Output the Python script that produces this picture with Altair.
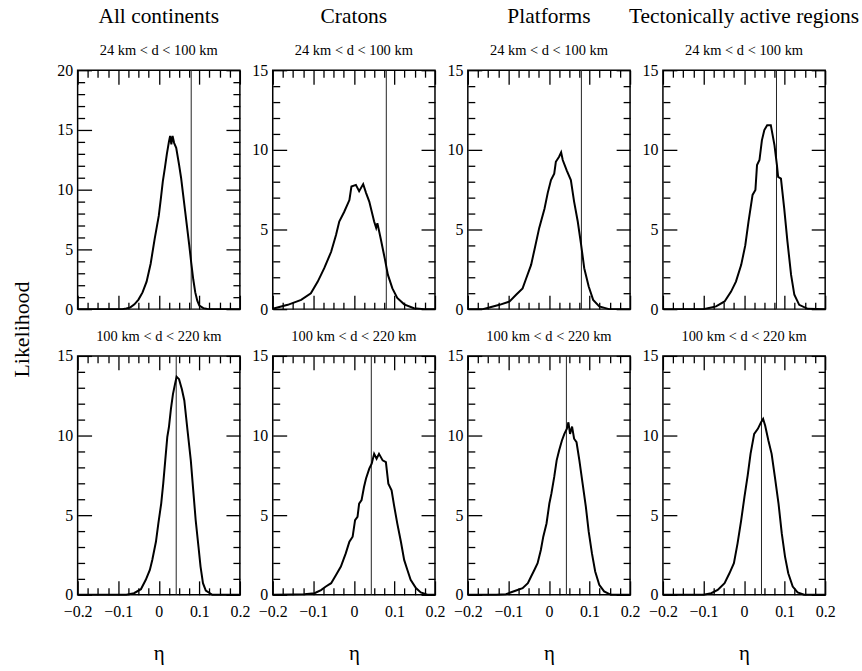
import altair as alt
import pandas as pd

FONT = "Liberation Serif"

# ---- data ----
COLUMNS = ["All continents", "Cratons", "Platforms", "Tectonically active regions"]
ROW_LABELS = ["24 km < d < 100 km", "100 km < d < 220 km"]
ROW_YMAX = [[20, 15, 15, 15], [15, 15, 15, 15]]
ROW_VLINE = [0.08, 0.043]

ALL_SHALLOW_ETA = [-0.2, -0.09, -0.08, -0.07, -0.06, -0.05, -0.04, -0.03, -0.02, -0.01, 0.0, 0.005, 0.01, 0.015, 0.02, 0.025, 0.028, 0.031, 0.034, 0.038, 0.043, 0.05, 0.055, 0.06, 0.065, 0.07, 0.075, 0.08, 0.085, 0.09, 0.095, 0.1, 0.11, 0.12, 0.13, 0.2]
ALL_SHALLOW_L = [0, 0, 0.05, 0.15, 0.4, 0.8, 1.4, 2.3, 3.8, 5.9, 7.8, 9.2, 10.7, 11.8, 13.0, 14.0, 14.5, 13.8, 14.5, 13.9, 13.5, 12.1, 11.0, 9.6, 8.2, 6.8, 5.4, 3.9, 2.5, 1.4, 0.7, 0.3, 0.08, 0.02, 0, 0]

CRA_SHALLOW_ETA = [-0.2, -0.163, -0.13, -0.106, -0.089, -0.073, -0.056, -0.044, -0.036, -0.024, -0.011, -0.006, 0.005, 0.013, 0.023, 0.03, 0.038, 0.05, 0.055, 0.058, 0.066, 0.076, 0.084, 0.095, 0.107, 0.124, 0.148, 0.173, 0.2]
CRA_SHALLOW_L = [0.02, 0.27, 0.58, 1.0, 1.73, 2.57, 3.6, 4.66, 5.5, 6.1, 6.85, 7.7, 7.8, 7.4, 7.85, 7.3, 6.75, 5.5, 5.1, 5.4, 4.45, 3.2, 2.15, 1.3, 0.7, 0.3, 0.06, 0, 0]

PLA_SHALLOW_ETA = [-0.2, -0.163, -0.147, -0.122, -0.097, -0.081, -0.065, -0.056, -0.044, -0.036, -0.024, -0.011, -0.003, 0.005, 0.013, 0.017, 0.025, 0.03, 0.034, 0.044, 0.054, 0.062, 0.071, 0.079, 0.087, 0.098, 0.109, 0.124, 0.148, 0.2]
PLA_SHALLOW_L = [0, 0, 0.1, 0.27, 0.48, 0.9, 1.3, 1.94, 2.78, 3.7, 5.1, 6.3, 7.3, 8.1, 8.5, 9.25, 9.57, 9.84, 9.36, 8.7, 8.1, 6.75, 5.5, 4.1, 2.57, 1.42, 0.58, 0.17, 0, 0]

TEC_SHALLOW_ETA = [-0.2, -0.1, -0.089, -0.069, -0.048, -0.032, -0.02, -0.007, 0.003, 0.011, 0.021, 0.028, 0.032, 0.038, 0.044, 0.05, 0.057, 0.066, 0.075, 0.081, 0.084, 0.091, 0.099, 0.107, 0.116, 0.124, 0.136, 0.157, 0.2]
TEC_SHALLOW_L = [0, 0, 0.06, 0.17, 0.48, 1.1, 1.73, 2.78, 4.0, 5.5, 7.17, 7.48, 9.05, 9.36, 10.6, 11.24, 11.55, 11.55, 10.3, 9.05, 8.3, 8.2, 6.33, 4.24, 2.15, 0.9, 0.27, 0.02, 0]

ALL_DEEP_ETA = [-0.2, -0.08, -0.061, -0.044, -0.032, -0.022, -0.016, -0.007, -0.001, 0.006, 0.011, 0.016, 0.021, 0.025, 0.03, 0.035, 0.04, 0.044, 0.05, 0.057, 0.063, 0.071, 0.079, 0.085, 0.091, 0.098, 0.103, 0.109, 0.116, 0.132, 0.2]
ALL_DEEP_L = [0, 0, 0.1, 0.35, 0.94, 1.56, 2.19, 3.33, 4.48, 5.73, 6.98, 8.44, 9.9, 10.52, 11.67, 12.6, 13.23, 13.69, 13.54, 12.9, 12.2, 10.3, 8.44, 6.56, 4.69, 3.0, 1.77, 0.73, 0.27, 0, 0]

CRA_DEEP_ETA = [-0.2, -0.15, -0.122, -0.097, -0.081, -0.069, -0.056, -0.044, -0.032, -0.02, -0.011, -0.003, 0.003, 0.009, 0.013, 0.019, 0.025, 0.03, 0.038, 0.044, 0.05, 0.056, 0.062, 0.071, 0.079, 0.085, 0.093, 0.099, 0.107, 0.116, 0.124, 0.132, 0.14, 0.153, 0.165, 0.181, 0.2]
CRA_DEEP_L = [0, 0.02, 0.04, 0.1, 0.3, 0.52, 0.73, 1.25, 1.77, 2.6, 3.33, 3.65, 4.69, 4.9, 5.73, 5.94, 6.77, 7.3, 7.92, 8.23, 8.85, 8.54, 8.85, 8.44, 8.33, 6.98, 6.56, 5.63, 4.48, 3.33, 2.19, 1.56, 0.94, 0.42, 0.15, 0, 0]

PLA_DEEP_ETA = [-0.2, -0.13, -0.106, -0.081, -0.065, -0.052, -0.044, -0.036, -0.028, -0.02, -0.014, -0.006, 0.001, 0.006, 0.013, 0.019, 0.025, 0.032, 0.038, 0.044, 0.048, 0.052, 0.057, 0.062, 0.068, 0.075, 0.083, 0.091, 0.098, 0.106, 0.114, 0.124, 0.136, 0.153, 0.2]
PLA_DEEP_L = [0, 0, 0.04, 0.27, 0.42, 0.73, 1.15, 1.56, 1.98, 2.81, 3.65, 4.48, 5.73, 6.35, 7.4, 8.44, 9.06, 9.69, 10.1, 10.42, 10.83, 10.1, 10.56, 9.8, 9.58, 8.44, 6.98, 5.52, 3.96, 2.6, 1.46, 0.63, 0.21, 0, 0]

TEC_DEEP_ETA = [-0.2, -0.1, -0.081, -0.065, -0.048, -0.036, -0.025, -0.016, -0.007, 0.001, 0.009, 0.016, 0.025, 0.034, 0.042, 0.047, 0.052, 0.06, 0.068, 0.076, 0.085, 0.093, 0.101, 0.109, 0.12, 0.132, 0.148, 0.2]
TEC_DEEP_L = [0, 0, 0.1, 0.31, 0.73, 1.35, 1.98, 3.23, 4.69, 6.15, 7.5, 8.85, 10.1, 10.42, 10.83, 11.04, 10.63, 9.69, 8.85, 7.4, 5.73, 3.85, 2.4, 1.35, 0.52, 0.15, 0, 0]

SERIES = [
    [(ALL_SHALLOW_ETA, ALL_SHALLOW_L), (CRA_SHALLOW_ETA, CRA_SHALLOW_L),
     (PLA_SHALLOW_ETA, PLA_SHALLOW_L), (TEC_SHALLOW_ETA, TEC_SHALLOW_L)],
    [(ALL_DEEP_ETA, ALL_DEEP_L), (CRA_DEEP_ETA, CRA_DEEP_L),
     (PLA_DEEP_ETA, PLA_DEEP_L), (TEC_DEEP_ETA, TEC_DEEP_L)],
]

X_MAJOR = [-0.2, -0.1, 0.0, 0.1, 0.2]
X_MINOR = [-0.175, -0.15, -0.125, -0.075, -0.05, -0.025, 0.025, 0.05, 0.075, 0.125, 0.15, 0.175]

W, H = 163, 240
MAJ, MIN = 14, 7
TICK_FONT = 16


def ax(orient, values, size, **kw):
    opts = dict(orient=orient, values=values, tickSize=size, offset=-size,
                domain=False, grid=False, ticks=True, tickColor="black",
                tickWidth=1.3, labels=False, title="", zindex=2)
    opts.update(kw)
    return alt.Axis(**opts)


def panel(r, c):
    eta, lik = SERIES[r][c]
    df = pd.DataFrame({"eta": eta, "L": lik})
    ymax = ROW_YMAX[r][c]
    y_major = [v for v in range(0, ymax + 1) if v % 5 == 0]
    y_minor = [v for v in range(0, ymax + 1) if v % 5 != 0]
    xs = alt.Scale(domain=[-0.2, 0.2], nice=False, zero=False)
    ys = alt.Scale(domain=[0, ymax], nice=False)

    if r == 1:
        bottom_major = ax("bottom", X_MAJOR, MAJ, labels=True, labelFlush=False,
                          labelOverlap=False, labelPadding=9, labelFontSize=TICK_FONT,
                          labelExpr="datum.value == 0 ? '0' : format(datum.value, '.1f')",
                          title="η", titleFontSize=21, titlePadding=23)
    else:
        bottom_major = ax("bottom", X_MAJOR, MAJ)

    ykw = dict(labels=True, labelPadding=5, labelFontSize=TICK_FONT)
    if r == 0 and c == 0:
        ykw.update(title="Likelihood", titleFontSize=22, titleX=-70, titleY=260,
                   titleBaseline="middle", titleAngle=270)
    left_major = ax("left", y_major, MAJ, **ykw)

    base = alt.Chart(df)
    line = base.mark_line(color="black", strokeWidth=2).encode(
        x=alt.X("eta:Q", scale=xs, axis=bottom_major),
        y=alt.Y("L:Q", scale=ys, axis=left_major),
    )
    l2 = base.mark_line(opacity=0).encode(
        x=alt.X("eta:Q", scale=xs, axis=ax("bottom", X_MINOR, MIN)),
        y=alt.Y("L:Q", scale=ys, axis=ax("left", y_minor, MIN)),
    )
    l3 = base.mark_line(opacity=0).encode(
        x=alt.X("eta:Q", scale=xs, axis=ax("top", X_MAJOR, MAJ)),
        y=alt.Y("L:Q", scale=ys, axis=ax("right", y_major, MAJ)),
    )
    l4 = base.mark_line(opacity=0).encode(
        x=alt.X("eta:Q", scale=xs, axis=ax("top", X_MINOR, MIN)),
        y=alt.Y("L:Q", scale=ys, axis=ax("right", y_minor, MIN)),
    )
    vdf = pd.DataFrame({"v": [ROW_VLINE[r]]})
    rule = alt.Chart(vdf).mark_rule(color="#222222", strokeWidth=1).encode(
        x=alt.X("v:Q", scale=xs, axis=None)
    )
    if r == 0:
        title = alt.TitleParams(text=COLUMNS[c], subtitle=ROW_LABELS[r], fontSize=21.5,
                                subtitleFontSize=14.5, subtitlePadding=16, offset=5)
    else:
        title = alt.TitleParams(text=ROW_LABELS[r], fontSize=14.5, offset=3)
    return (alt.layer(rule, line, l2, l3, l4)
            .resolve_axis(x="independent", y="independent")
            .properties(width=W, height=H, title=title))


panels = [panel(r, c) for r in range(2) for c in range(4)]
chart = (alt.concat(*panels, columns=4, spacing={"row": 47, "column": 33}, bounds="flush")
         .properties(padding={"left": 10, "top": 4, "right": 2, "bottom": 5})
         .configure_view(stroke="black", strokeWidth=1.5)
         .configure_axis(labelFont=FONT, titleFont=FONT, labelColor="black",
                         titleColor="black", titleFontWeight="normal")
         .configure_title(font=FONT, subtitleFont=FONT, color="black",
                          subtitleColor="black", anchor="middle",
                          fontWeight="normal"))

chart.save("out.html", embed_options={"renderer": "svg", "actions": False})
